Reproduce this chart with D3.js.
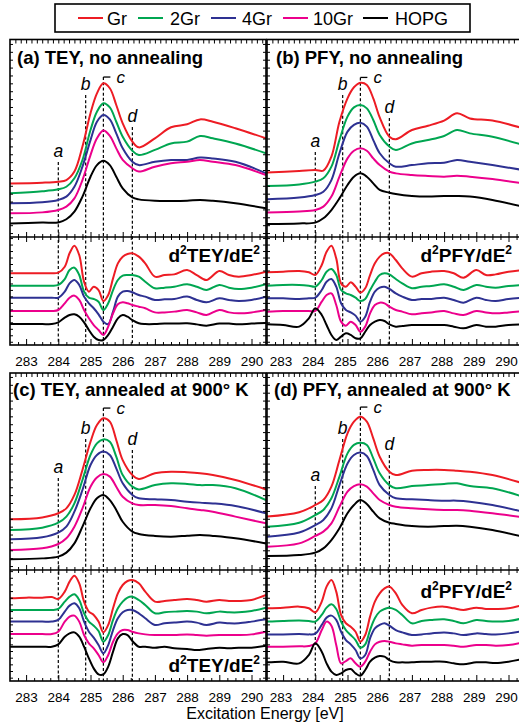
<!DOCTYPE html>
<html><head><meta charset="utf-8">
<script src="https://cdn.jsdelivr.net/npm/d3@7"></script>
<style>body{margin:0;background:#fff}svg{display:block}</style>
</head><body><svg id="chart" width="519" height="726"></svg>
<script>
// ---------------- DATA ----------------
const seriesNames = ["Gr", "2Gr", "4Gr", "10Gr", "HOPG"];
const seriesColors = ["#ed1c24", "#00a651", "#2e3192", "#ec008c", "#000000"];
const energyDomain = [282.5, 290.45];
const tickLabels = [283, 284, 285, 286, 287, 288, 289, 290];
const markerNames = ["a", "b", "c", "d"];
const markerEnergies = [284.0, 284.85, 285.4, 286.3];

const energyXAS = [282.5, 283.5, 284.0, 284.25, 284.5, 284.75, 285.0, 285.2, 285.4, 285.6, 285.8, 286.0, 286.3, 286.5, 287.0, 287.5, 288.0, 288.4, 288.8, 289.5, 290.45];
const energyD2 = [282.5, 283.0, 283.5, 283.8, 284.0, 284.2, 284.35, 284.5, 284.65, 284.8, 284.95, 285.1, 285.25, 285.4, 285.55, 285.7, 285.85, 286.0, 286.15, 286.3, 286.5, 286.7, 287.0, 287.3, 287.6, 288.0, 288.3, 288.6, 289.0, 289.3, 289.6, 290.0, 290.45];

// (a) TEY, no annealing (offset spectra, arb. units)
const teyRaw_Gr   = [2.72, 2.76, 2.81, 2.89, 3.32, 4.59, 6.28, 7.29, 7.80, 7.55, 6.70, 5.77, 4.84, 4.55, 5.01, 5.57, 5.72, 5.97, 5.85, 5.52, 5.01];
const teyRaw_2Gr  = [2.22, 2.32, 2.42, 2.55, 2.98, 3.91, 5.43, 6.36, 6.79, 6.58, 5.85, 5.09, 4.38, 4.16, 4.42, 4.75, 4.84, 5.13, 5.01, 4.75, 4.25];
const teyRaw_4Gr  = [1.71, 1.76, 1.88, 2.05, 2.55, 3.57, 4.92, 5.85, 6.19, 5.97, 5.26, 4.50, 3.82, 3.65, 3.82, 3.91, 3.91, 4.03, 3.99, 3.82, 3.23];
const teyRaw_10Gr = [1.20, 1.25, 1.37, 1.54, 1.96, 2.89, 4.16, 5.01, 5.40, 5.13, 4.50, 3.91, 3.49, 3.32, 3.57, 3.74, 3.82, 3.91, 3.82, 3.65, 3.15];
const teyRaw_HOPG = [0.69, 0.73, 0.74, 0.90, 1.29, 2.05, 3.06, 3.65, 3.87, 3.65, 3.06, 2.47, 2.01, 1.91, 1.84, 1.83, 1.84, 1.88, 1.84, 1.71, 1.46];
// (b) PFY, no annealing
const pfyRaw_Gr   = [3.27, 3.35, 3.40, 3.37, 4.08, 5.85, 7.04, 7.60, 7.83, 7.72, 7.04, 6.07, 5.09, 4.96, 5.43, 5.65, 5.91, 6.28, 6.02, 5.91, 5.52];
const pfyRaw_2Gr  = [2.59, 2.67, 2.81, 2.98, 3.57, 4.92, 6.11, 6.58, 6.70, 6.53, 5.94, 5.18, 4.59, 4.42, 4.75, 4.92, 5.13, 5.43, 5.26, 5.09, 4.67];
const pfyRaw_4Gr  = [1.91, 2.00, 2.13, 2.30, 2.89, 4.25, 5.35, 5.69, 5.80, 5.60, 4.92, 4.25, 3.74, 3.57, 3.65, 3.74, 3.77, 3.91, 3.82, 3.65, 3.40];
const pfyRaw_10Gr = [1.24, 1.29, 1.37, 1.54, 2.05, 3.06, 3.99, 4.38, 4.50, 4.38, 3.99, 3.65, 3.32, 3.23, 3.15, 3.10, 3.06, 3.11, 3.06, 2.94, 2.72];
const pfyRaw_HOPG = [0.66, 0.69, 0.73, 0.95, 1.37, 1.96, 2.64, 3.06, 3.23, 3.06, 2.72, 2.39, 2.25, 2.18, 2.08, 2.05, 2.08, 2.08, 2.05, 1.88, 1.54];
// (c) TEY, annealed at 900 K
const teyAnn_Gr   = [2.57, 2.67, 2.88, 3.13, 3.81, 5.08, 6.51, 7.36, 7.70, 7.53, 6.60, 5.58, 4.82, 4.62, 4.91, 4.99, 4.96, 4.91, 4.82, 4.57, 4.09];
const teyAnn_2Gr  = [2.03, 2.15, 2.40, 2.71, 3.38, 4.57, 5.84, 6.43, 6.63, 6.51, 5.75, 4.82, 4.23, 4.09, 4.31, 4.40, 4.37, 4.31, 4.31, 4.15, 3.55];
const teyAnn_4Gr  = [1.56, 1.66, 1.90, 2.20, 2.96, 4.06, 5.33, 5.84, 6.01, 5.84, 5.16, 4.40, 3.81, 3.64, 3.59, 3.55, 3.47, 3.42, 3.38, 3.25, 2.88];
const teyAnn_10Gr = [1.02, 1.10, 1.32, 1.61, 2.20, 3.13, 4.23, 4.70, 4.87, 4.74, 4.23, 3.72, 3.38, 3.30, 3.30, 3.25, 3.13, 3.05, 2.96, 2.71, 2.37];
const teyAnn_HOPG = [0.54, 0.59, 0.68, 0.88, 1.35, 2.20, 3.13, 3.64, 3.81, 3.55, 3.05, 2.45, 1.95, 1.83, 1.73, 1.69, 1.74, 1.78, 1.73, 1.61, 1.35];
// (d) PFY, annealed at 900 K
const pfyAnn_Gr   = [2.71, 2.93, 3.30, 3.55, 4.23, 5.58, 6.94, 7.53, 7.78, 7.53, 6.68, 5.75, 4.99, 4.82, 5.04, 5.08, 5.08, 5.04, 4.99, 4.82, 4.40];
const pfyAnn_2Gr  = [2.20, 2.40, 2.79, 3.05, 3.64, 4.74, 5.92, 6.35, 6.46, 6.35, 5.67, 4.91, 4.31, 4.15, 4.26, 4.31, 4.37, 4.40, 4.26, 4.15, 3.72];
const pfyAnn_4Gr  = [1.69, 1.90, 2.28, 2.54, 3.13, 4.31, 5.41, 5.84, 5.96, 5.79, 5.08, 4.31, 3.81, 3.64, 3.59, 3.55, 3.52, 3.52, 3.47, 3.30, 2.96];
const pfyAnn_10Gr = [1.18, 1.35, 1.73, 1.95, 2.37, 3.21, 3.98, 4.26, 4.35, 4.23, 3.89, 3.55, 3.30, 3.21, 3.13, 3.08, 3.05, 3.05, 3.01, 2.88, 2.67];
const pfyAnn_HOPG = [0.71, 0.76, 0.88, 1.10, 1.52, 2.12, 2.88, 3.30, 3.55, 3.35, 2.96, 2.62, 2.40, 2.34, 2.23, 2.20, 2.23, 2.25, 2.20, 2.03, 1.69];

// second derivatives (offset, arb. units)
const d2TeyRaw_Gr   = [6.64, 6.64, 6.64, 6.64, 6.70, 7.25, 8.49, 9.20, 8.33, 5.86, 4.94, 5.40, 5.09, 4.07, 4.63, 6.17, 7.56, 8.18, 8.43, 8.49, 8.18, 7.56, 6.33, 6.48, 6.54, 6.94, 6.48, 6.02, 6.85, 6.48, 6.33, 6.48, 6.79];
const d2TeyRaw_2Gr  = [5.49, 5.49, 5.49, 5.49, 5.56, 6.11, 6.94, 7.16, 6.48, 4.94, 4.38, 4.26, 4.01, 3.24, 3.86, 5.09, 6.02, 6.42, 6.48, 6.48, 6.33, 5.86, 5.25, 5.31, 5.40, 5.62, 5.40, 5.09, 5.56, 5.31, 5.19, 5.31, 5.62];
const d2TeyRaw_4Gr  = [4.38, 4.38, 4.38, 4.38, 4.38, 4.94, 5.71, 6.02, 5.56, 4.48, 3.86, 3.40, 2.84, 2.16, 1.94, 3.09, 4.48, 4.94, 5.00, 4.88, 4.63, 4.48, 4.17, 4.23, 4.26, 4.48, 4.17, 3.95, 4.32, 4.17, 4.07, 4.17, 4.48];
const d2TeyRaw_10Gr = [3.15, 3.15, 3.15, 3.15, 3.24, 3.86, 4.38, 4.57, 4.17, 3.24, 2.47, 1.85, 1.39, 0.93, 1.70, 2.93, 3.77, 3.95, 3.86, 3.70, 3.55, 3.40, 3.02, 3.02, 3.09, 3.24, 3.02, 2.78, 3.24, 3.02, 2.93, 3.02, 3.24];
const d2TeyRaw_HOPG = [1.94, 1.94, 1.94, 1.94, 2.10, 2.53, 2.78, 2.84, 2.62, 2.10, 1.39, 0.77, 0.46, 0.46, 0.93, 1.70, 2.47, 2.78, 2.62, 2.31, 2.01, 1.94, 1.94, 1.98, 1.98, 2.01, 1.91, 1.79, 1.98, 1.98, 1.91, 1.98, 2.04];

const d2PfyRaw_Gr   = [6.73, 6.79, 6.85, 6.73, 6.48, 7.41, 8.64, 9.20, 8.02, 5.71, 5.40, 5.80, 5.40, 4.85, 5.25, 6.48, 7.56, 8.18, 8.49, 8.49, 7.87, 7.10, 6.33, 6.64, 6.79, 6.85, 6.64, 6.23, 6.94, 6.48, 6.54, 6.79, 6.94];
const d2PfyRaw_2Gr  = [5.49, 5.56, 5.56, 5.49, 5.40, 6.02, 6.79, 7.04, 6.48, 5.09, 4.78, 4.63, 4.38, 4.07, 4.26, 5.09, 5.86, 6.48, 6.64, 6.54, 6.11, 5.71, 5.25, 5.40, 5.46, 5.62, 5.40, 5.09, 5.56, 5.40, 5.31, 5.46, 5.56];
const d2PfyRaw_4Gr  = [4.32, 4.32, 4.26, 4.32, 4.38, 5.09, 5.86, 6.11, 5.40, 3.86, 3.24, 3.02, 2.72, 2.16, 2.62, 4.01, 4.94, 5.31, 5.40, 5.19, 4.78, 4.48, 4.17, 4.26, 4.26, 4.38, 4.17, 3.92, 4.38, 4.17, 4.07, 4.26, 4.38];
const d2PfyRaw_10Gr = [3.09, 3.15, 3.15, 3.15, 3.15, 4.01, 4.63, 4.78, 3.70, 2.16, 1.79, 2.16, 1.85, 1.23, 1.70, 2.93, 3.70, 3.92, 3.86, 3.55, 3.24, 3.09, 2.84, 2.93, 3.02, 3.15, 2.93, 2.78, 3.15, 3.02, 2.93, 3.02, 3.15];
const d2PfyRaw_HOPG = [1.91, 1.85, 1.70, 2.47, 3.40, 2.78, 1.85, 0.93, 0.46, 0.77, 1.08, 0.93, 0.62, 0.62, 1.23, 1.85, 2.16, 2.31, 2.22, 1.91, 1.70, 1.76, 1.85, 1.85, 1.85, 1.85, 1.70, 1.54, 1.85, 1.70, 1.70, 1.85, 1.91];

const d2TeyAnn_Gr   = [7.45, 7.51, 7.51, 7.57, 7.39, 8.05, 8.95, 9.49, 8.80, 7.15, 6.25, 5.95, 5.35, 4.38, 5.05, 6.55, 7.90, 8.65, 9.01, 9.10, 8.80, 8.05, 7.15, 7.21, 7.30, 7.39, 7.30, 7.15, 7.30, 7.21, 7.21, 7.30, 7.75];
const d2TeyAnn_2Gr  = [6.40, 6.40, 6.40, 6.40, 6.49, 7.15, 7.60, 7.81, 7.30, 6.10, 5.35, 4.98, 4.50, 3.54, 4.14, 5.50, 6.55, 7.15, 7.51, 7.60, 7.30, 6.85, 6.10, 6.19, 6.25, 6.31, 6.25, 6.10, 6.25, 6.19, 6.19, 6.31, 6.61];
const d2TeyAnn_4Gr  = [5.35, 5.35, 5.35, 5.35, 5.50, 6.25, 6.79, 7.00, 6.55, 5.35, 4.44, 3.90, 3.24, 2.49, 3.24, 4.59, 5.65, 6.19, 6.40, 6.40, 6.10, 5.65, 5.05, 5.20, 5.26, 5.35, 5.26, 5.05, 5.26, 5.20, 5.20, 5.35, 5.56];
const d2TeyAnn_10Gr = [4.23, 4.23, 4.23, 4.23, 4.44, 5.35, 5.80, 5.89, 5.35, 4.14, 3.39, 2.94, 2.34, 1.68, 2.34, 3.54, 4.29, 4.59, 4.59, 4.44, 4.29, 4.20, 4.14, 4.14, 4.14, 4.20, 4.14, 4.08, 4.14, 4.14, 4.14, 4.20, 4.44];
const d2TeyAnn_HOPG = [3.09, 3.09, 3.09, 3.09, 3.30, 3.99, 4.29, 4.38, 3.99, 3.09, 2.04, 1.14, 0.60, 0.60, 1.29, 2.64, 3.84, 4.23, 4.14, 3.60, 3.09, 3.09, 3.00, 3.09, 2.94, 2.88, 2.79, 2.88, 3.00, 2.94, 3.00, 3.00, 3.18];

const d2PfyAnn_Gr   = [6.55, 6.61, 6.70, 6.55, 6.19, 7.15, 8.50, 9.10, 8.05, 5.95, 5.20, 4.89, 4.44, 3.54, 4.14, 5.80, 7.15, 7.90, 8.35, 8.50, 7.90, 6.85, 6.10, 6.40, 6.61, 6.70, 6.55, 6.40, 6.61, 6.49, 6.49, 6.55, 6.85];
const d2PfyAnn_2Gr  = [5.35, 5.41, 5.44, 5.41, 5.35, 5.95, 6.61, 6.91, 6.49, 5.35, 4.59, 4.14, 3.69, 3.00, 3.30, 4.59, 5.65, 6.25, 6.49, 6.61, 6.40, 5.95, 5.20, 5.41, 5.50, 5.56, 5.41, 5.20, 5.50, 5.41, 5.35, 5.41, 5.65];
const d2PfyAnn_4Gr  = [4.20, 4.20, 4.23, 4.20, 4.26, 5.05, 5.71, 5.89, 5.50, 4.44, 3.69, 3.30, 2.79, 2.04, 2.34, 3.84, 4.74, 5.05, 5.20, 4.98, 4.59, 4.38, 4.14, 4.20, 4.29, 4.38, 4.29, 4.14, 4.29, 4.23, 4.20, 4.29, 4.50];
const d2PfyAnn_10Gr = [3.09, 3.09, 3.12, 3.15, 3.39, 4.59, 5.35, 4.98, 3.24, 1.59, 1.80, 2.04, 1.59, 1.29, 1.74, 2.64, 3.30, 3.54, 3.60, 3.54, 3.39, 3.30, 3.18, 3.24, 3.24, 3.24, 3.18, 3.09, 3.24, 3.24, 3.18, 3.24, 3.48];
const d2PfyAnn_HOPG = [1.68, 1.74, 1.59, 2.34, 3.39, 2.64, 1.59, 0.84, 0.54, 0.69, 0.99, 1.08, 0.69, 0.48, 0.99, 1.74, 2.10, 2.25, 2.19, 1.89, 1.68, 1.68, 1.68, 1.74, 1.74, 1.74, 1.59, 1.50, 1.68, 1.68, 1.62, 1.74, 1.98];

// top of the dashed marker lines (same units as spectra) per panel
const markerTopsA = [3.81, 7.21, 8.12, 5.58];
const markerTopsB = [4.31, 7.21, 8.10, 6.04];
const markerTopsC = [4.67, 6.65, 8.22, 6.09];
const markerTopsD = [4.26, 6.65, 8.27, 5.84];

const panelTitles = ["(a) TEY, no annealing", "(b) PFY, no annealing", "(c) TEY, annealed at 900\u00B0 K", "(d) PFY, annealed at 900\u00B0 K"];
const derivNames = ["TEY", "PFY", "TEY", "PFY"];
const derivLabelY = [7.69, 7.69, 0.81, 7.48];

// ---------------- LAYOUT ----------------
const FONT = "'Liberation Sans', Arial, Helvetica, sans-serif";
const PW = 256;
const colX = [10, 267];
const rowGeom = [{top: 39.5, mid: 237, bot: 345}, {top: 373, mid: 570, bot: 681}];
const titleOff = [[7, 24], [9, 24], [3, 22.5], [7, 22.5]];

const panels = [
  {col: 0, row: 0, xas: [teyRaw_Gr, teyRaw_2Gr, teyRaw_4Gr, teyRaw_10Gr, teyRaw_HOPG], d2: [d2TeyRaw_Gr, d2TeyRaw_2Gr, d2TeyRaw_4Gr, d2TeyRaw_10Gr, d2TeyRaw_HOPG], tops: markerTopsA},
  {col: 1, row: 0, xas: [pfyRaw_Gr, pfyRaw_2Gr, pfyRaw_4Gr, pfyRaw_10Gr, pfyRaw_HOPG], d2: [d2PfyRaw_Gr, d2PfyRaw_2Gr, d2PfyRaw_4Gr, d2PfyRaw_10Gr, d2PfyRaw_HOPG], tops: markerTopsB},
  {col: 0, row: 1, xas: [teyAnn_Gr, teyAnn_2Gr, teyAnn_4Gr, teyAnn_10Gr, teyAnn_HOPG], d2: [d2TeyAnn_Gr, d2TeyAnn_2Gr, d2TeyAnn_4Gr, d2TeyAnn_10Gr, d2TeyAnn_HOPG], tops: markerTopsC},
  {col: 1, row: 1, xas: [pfyAnn_Gr, pfyAnn_2Gr, pfyAnn_4Gr, pfyAnn_10Gr, pfyAnn_HOPG], d2: [d2PfyAnn_Gr, d2PfyAnn_2Gr, d2PfyAnn_4Gr, d2PfyAnn_10Gr, d2PfyAnn_HOPG], tops: markerTopsD}
];

const svg = d3.select("#chart").attr("font-family", FONT);
svg.append("rect").attr("width", 519).attr("height", 726).attr("fill", "#fff");

const minorTicks = d3.range(282.75, 290.46, 0.25).filter(v => Math.abs(v - Math.round(v)) > 0.01);
const topTicks = d3.range(1, 48).map(k => 282.5 + k / 6);

function noDomain(g) { g.select(".domain").remove(); }

panels.forEach((p, pi) => {
  const x0 = colX[p.col];
  const gm = rowGeom[p.row];
  const x = d3.scaleLinear().domain(energyDomain).range([x0, x0 + PW]);
  const yT = d3.scaleLinear().domain([0, 10]).range([gm.mid, gm.mid - 197]);
  const yD = d3.scaleLinear().domain([0, 10]).range([gm.bot, gm.mid]);
  const g = svg.append("g");

  const cid = "clip" + pi;
  svg.append("clipPath").attr("id", cid).append("rect")
    .attr("x", x0).attr("y", gm.top).attr("width", PW).attr("height", gm.bot - gm.top);

  // dashed marker lines + labels
  const mg = g.append("g");
  markerEnergies.forEach((e, k) => {
    const xx = x(e), yTop = yT(p.tops[k]);
    mg.append("line").attr("x1", xx).attr("x2", xx).attr("y1", yTop).attr("y2", gm.bot)
      .attr("stroke", "#000").attr("stroke-width", 1.2).attr("stroke-dasharray", "3,2.2");
    if (markerNames[k] === "c") {
      mg.append("line").attr("x1", xx).attr("x2", xx + 7).attr("y1", yTop).attr("y2", yTop)
        .attr("stroke", "#000").attr("stroke-width", 1.3);
      mg.append("text").attr("x", xx + 13).attr("y", yTop + 6).text("c")
        .attr("font-size", 17).attr("font-style", "italic");
    } else {
      mg.append("text").attr("x", xx).attr("y", yTop - 5).attr("text-anchor", "middle")
        .text(markerNames[k]).attr("font-size", 17.5).attr("font-style", "italic");
    }
  });

  // curves
  const lineT = d3.line().x(d => x(d[0])).y(d => yT(d[1])).curve(d3.curveCatmullRom.alpha(0.5));
  const lineD = d3.line().x(d => x(d[0])).y(d => yD(d[1])).curve(d3.curveCatmullRom.alpha(0.5));
  const cg = g.append("g").attr("clip-path", `url(#${cid})`);
  p.xas.forEach((arr, i) => {
    cg.append("path").datum(energyXAS.map((e, j) => [e, arr[j]])).attr("d", lineT)
      .attr("fill", "none").attr("stroke", seriesColors[i]).attr("stroke-width", 2);
  });
  p.d2.forEach((arr, i) => {
    cg.append("path").datum(energyD2.map((e, j) => [e, arr[j]])).attr("d", lineD)
      .attr("fill", "none").attr("stroke", seriesColors[i]).attr("stroke-width", 2);
  });

  // ticks: top edge (down)
  g.append("g").attr("transform", `translate(0,${gm.top})`)
    .call(d3.axisBottom(x).tickValues(topTicks).tickSize(4).tickFormat("")).call(noDomain);
  // divider (crossing ticks)
  g.append("g").attr("transform", `translate(0,${gm.mid})`)
    .call(d3.axisBottom(x).tickValues(minorTicks).tickSize(3).tickFormat("")).call(noDomain);
  g.append("g").attr("transform", `translate(0,${gm.mid})`)
    .call(d3.axisTop(x).tickValues(minorTicks).tickSize(3).tickFormat("")).call(noDomain);
  g.append("g").attr("transform", `translate(0,${gm.mid})`)
    .call(d3.axisBottom(x).tickValues(tickLabels).tickSize(5).tickFormat("")).call(noDomain);
  g.append("g").attr("transform", `translate(0,${gm.mid})`)
    .call(d3.axisTop(x).tickValues(tickLabels).tickSize(5).tickFormat("")).call(noDomain);
  // bottom axis (ticks up) + labels
  g.append("g").attr("transform", `translate(0,${gm.bot})`)
    .call(d3.axisTop(x).tickValues(minorTicks).tickSize(3).tickFormat("")).call(noDomain);
  g.append("g").attr("transform", `translate(0,${gm.bot})`)
    .call(d3.axisTop(x).tickValues(tickLabels).tickSize(6).tickFormat("")).call(noDomain);
  g.append("g").attr("transform", `translate(0,${gm.bot})`)
    .call(d3.axisBottom(x).tickValues(tickLabels).tickSize(0).tickPadding(11).tickFormat(d3.format("d")))
    .call(noDomain)
    .call(a => a.selectAll("text").attr("font-size", 13.5).attr("font-family", FONT).attr("fill", "#000")
      .attr("dx", p.col === 1 ? -2.5 : 0));
  // side ticks
  const yTickT = d3.range(0.2, 10, 0.4), yTickD = d3.range(0.3, 10, 0.6);
  [[d3.axisRight, x0], [d3.axisLeft, x0 + PW]].forEach(([ax, xx]) => {
    g.append("g").attr("transform", `translate(${xx},0)`)
      .call(ax(yT).tickValues(yTickT).tickSize(3).tickFormat("")).call(noDomain);
    g.append("g").attr("transform", `translate(${xx},0)`)
      .call(ax(yD).tickValues(yTickD).tickSize(3).tickFormat("")).call(noDomain);
  });
  g.selectAll(".tick line").attr("stroke", "#000").attr("stroke-width", 1);

  // frame and divider
  g.append("rect").attr("x", x0).attr("y", gm.top).attr("width", PW).attr("height", gm.bot - gm.top)
    .attr("fill", "none").attr("stroke", "#000").attr("stroke-width", 1.6);
  g.append("line").attr("x1", x0).attr("x2", x0 + PW).attr("y1", gm.mid).attr("y2", gm.mid)
    .attr("stroke", "#000").attr("stroke-width", 1.6);

  // titles
  g.append("text").attr("x", x0 + titleOff[pi][0]).attr("y", gm.top + titleOff[pi][1])
    .attr("font-size", 18.5).attr("font-weight", "bold").text(panelTitles[pi]);

  // derivative label
  const dl = g.append("text").attr("x", x(energyDomain[0] + (x0 === 10 ? 250 : 245) / 32.2))
    .attr("y", yD(derivLabelY[pi])).attr("text-anchor", "end")
    .attr("font-size", 19).attr("font-weight", "bold");
  dl.append("tspan").text("d");
  dl.append("tspan").text("2").attr("font-size", 12).attr("dy", -8);
  dl.append("tspan").text(derivNames[pi] + "/dE").attr("dy", 8);
  dl.append("tspan").text("2").attr("font-size", 12).attr("dy", -8);
});

// legend
const lg = svg.append("g");
lg.append("rect").attr("x", 55).attr("y", 4).attr("width", 415).attr("height", 28)
  .attr("fill", "#fff").attr("stroke", "#000").attr("stroke-width", 1.6);
const legLineX = [78, 138, 211, 283, 363];
const legTextX = [107, 170, 242, 313, 395];
seriesNames.forEach((n, i) => {
  lg.append("line").attr("x1", legLineX[i]).attr("x2", legLineX[i] + 25).attr("y1", 18).attr("y2", 18)
    .attr("stroke", seriesColors[i]).attr("stroke-width", 2);
  lg.append("text").attr("x", legTextX[i]).attr("y", 24.5).attr("font-size", 18).text(n);
});

// axis title
svg.append("text").attr("x", 265).attr("y", 719).attr("text-anchor", "middle")
  .attr("font-size", 16).text("Excitation Energy [eV]");
</script>
</body></html>
